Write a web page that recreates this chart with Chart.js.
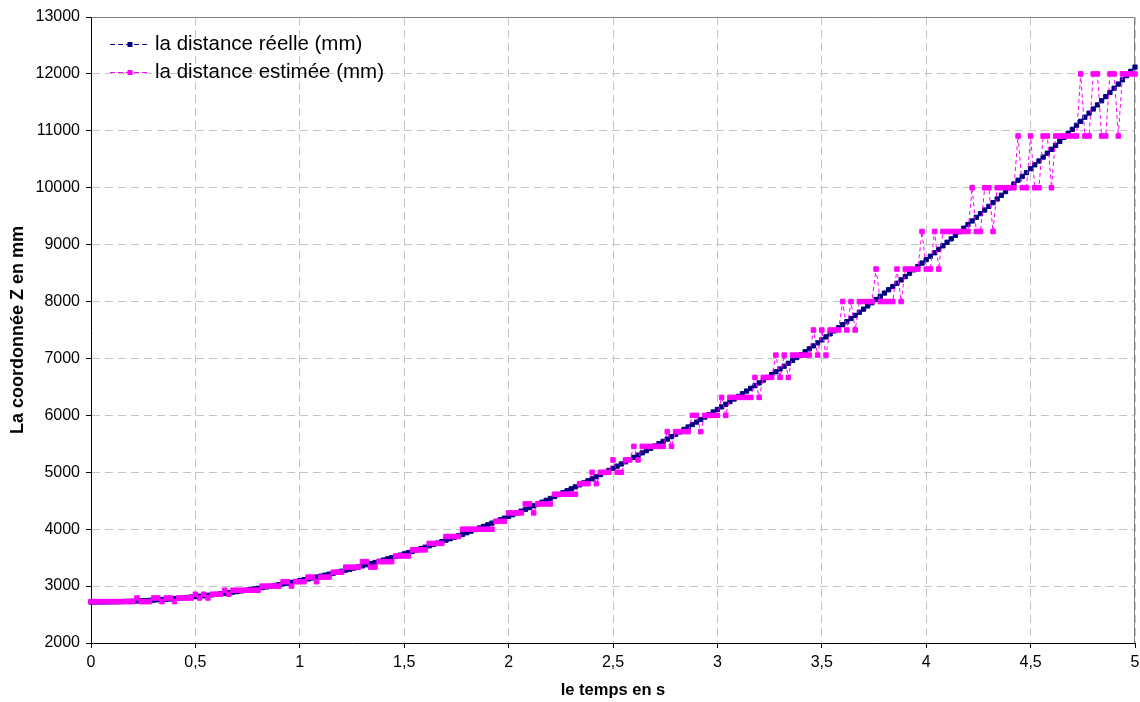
<!DOCTYPE html>
<html>
<head>
<meta charset="utf-8">
<script src="https://cdn.jsdelivr.net/npm/chart.js"></script>
<style>
  html, body { margin: 0; padding: 0; background: #ffffff; }
  #wrap { width: 1140px; height: 702px; position: relative; }
</style>
</head>
<body>
<div id="wrap"><canvas id="c"></canvas></div>
<script>
// time in seconds
const times = [
  0.00,0.02,0.04,0.06,0.08,0.10,0.12,0.14,0.16,0.18,
  0.20,0.22,0.24,0.26,0.28,0.30,0.32,0.34,0.36,0.38,
  0.40,0.42,0.44,0.46,0.48,0.50,0.52,0.54,0.56,0.58,
  0.60,0.62,0.64,0.66,0.68,0.70,0.72,0.74,0.76,0.78,
  0.80,0.82,0.84,0.86,0.88,0.90,0.92,0.94,0.96,0.98,
  1.00,1.02,1.04,1.06,1.08,1.10,1.12,1.14,1.16,1.18,
  1.20,1.22,1.24,1.26,1.28,1.30,1.32,1.34,1.36,1.38,
  1.40,1.42,1.44,1.46,1.48,1.50,1.52,1.54,1.56,1.58,
  1.60,1.62,1.64,1.66,1.68,1.70,1.72,1.74,1.76,1.78,
  1.80,1.82,1.84,1.86,1.88,1.90,1.92,1.94,1.96,1.98,
  2.00,2.02,2.04,2.06,2.08,2.10,2.12,2.14,2.16,2.18,
  2.20,2.22,2.24,2.26,2.28,2.30,2.32,2.34,2.36,2.38,
  2.40,2.42,2.44,2.46,2.48,2.50,2.52,2.54,2.56,2.58,
  2.60,2.62,2.64,2.66,2.68,2.70,2.72,2.74,2.76,2.78,
  2.80,2.82,2.84,2.86,2.88,2.90,2.92,2.94,2.96,2.98,
  3.00,3.02,3.04,3.06,3.08,3.10,3.12,3.14,3.16,3.18,
  3.20,3.22,3.24,3.26,3.28,3.30,3.32,3.34,3.36,3.38,
  3.40,3.42,3.44,3.46,3.48,3.50,3.52,3.54,3.56,3.58,
  3.60,3.62,3.64,3.66,3.68,3.70,3.72,3.74,3.76,3.78,
  3.80,3.82,3.84,3.86,3.88,3.90,3.92,3.94,3.96,3.98,
  4.00,4.02,4.04,4.06,4.08,4.10,4.12,4.14,4.16,4.18,
  4.20,4.22,4.24,4.26,4.28,4.30,4.32,4.34,4.36,4.38,
  4.40,4.42,4.44,4.46,4.48,4.50,4.52,4.54,4.56,4.58,
  4.60,4.62,4.64,4.66,4.68,4.70,4.72,4.74,4.76,4.78,
  4.80,4.82,4.84,4.86,4.88,4.90,4.92,4.94,4.96,4.98,
  5.00
];

// la distance réelle (mm)
const realDistance = [
  2720,2720,2721,2721,2722,2724,2725,2727,2730,2732,
  2735,2738,2742,2745,2749,2754,2759,2763,2769,2774,
  2780,2786,2793,2800,2807,2814,2822,2830,2838,2846,
  2855,2865,2874,2884,2894,2904,2915,2926,2937,2949,
  2961,2973,2985,2998,3011,3025,3038,3052,3067,3081,
  3096,3111,3127,3142,3159,3175,3192,3209,3226,3244,
  3261,3280,3298,3317,3336,3355,3375,3395,3415,3436,
  3457,3478,3500,3521,3544,3566,3589,3612,3635,3659,
  3683,3707,3731,3756,3781,3807,3832,3858,3885,3911,
  3938,3965,3993,4021,4049,4077,4106,4135,4164,4194,
  4224,4254,4285,4316,4347,4378,4410,4442,4474,4507,
  4540,4573,4607,4640,4675,4709,4744,4779,4814,4850,
  4886,4922,4959,4995,5033,5070,5108,5146,5184,5223,
  5262,5301,5341,5380,5421,5461,5502,5543,5584,5626,
  5668,5710,5753,5796,5839,5882,5926,5970,6014,6059,
  6104,6149,6195,6241,6287,6333,6380,6427,6475,6522,
  6570,6619,6667,6716,6765,6815,6864,6915,6965,7016,
  7067,7118,7169,7221,7274,7326,7379,7432,7485,7539,
  7593,7647,7702,7757,7812,7867,7923,7979,8036,8092,
  8149,8207,8264,8322,8380,8439,8498,8557,8616,8676,
  8736,8796,8857,8918,8979,9041,9102,9164,9227,9290,
  9353,9416,9480,9544,9608,9672,9737,9802,9868,9933,
  9999,10066,10132,10199,10266,10334,10402,10470,10538,10607,
  10676,10745,10815,10885,10955,11026,11097,11168,11239,11311,
  11383,11455,11528,11601,11674,11748,11822,11896,11970,12045,
  12120
];

// la distance estimée (mm)
const estimatedDistance = [
  2727,2727,2727,2727,2727,2727,2727,2727,2727,2727,
  2727,2791,2727,2727,2727,2791,2791,2727,2791,2791,
  2727,2791,2791,2791,2791,2857,2791,2857,2791,2857,
  2857,2857,2927,2857,2927,2927,2927,2927,2927,2927,
  2927,3000,3000,3000,3000,3000,3077,3077,3000,3077,
  3077,3077,3158,3158,3077,3158,3158,3158,3243,3243,
  3243,3333,3333,3333,3333,3429,3429,3333,3333,3429,
  3429,3429,3429,3529,3529,3529,3529,3636,3636,3636,
  3636,3750,3750,3750,3750,3871,3871,3871,3871,4000,
  4000,4000,4000,4000,4000,4000,4000,4138,4138,4138,
  4286,4286,4286,4286,4444,4444,4286,4444,4444,4444,
  4444,4615,4615,4615,4615,4615,4615,4800,4800,4800,
  5000,4800,5000,5000,5000,5217,5000,5000,5217,5217,
  5455,5217,5455,5455,5455,5455,5455,5455,5714,5455,
  5714,5714,5714,5714,6000,6000,5714,6000,6000,6000,
  6000,6316,6000,6316,6316,6316,6316,6316,6316,6667,
  6316,6667,6667,6667,7059,6667,7059,6667,7059,7059,
  7059,7059,7059,7500,7059,7500,7059,7500,7500,7500,
  8000,7500,8000,7500,8000,8000,8000,8000,8571,8000,
  8000,8000,8000,8571,8000,8571,8571,8571,8571,9231,
  8571,8571,9231,8571,9231,9231,9231,9231,9231,9231,
  9231,10000,9231,9231,10000,10000,9231,10000,10000,10000,
  10000,10000,10909,10000,10000,10909,10000,10000,10909,10909,
  10000,10909,10909,10909,10909,10909,10909,12000,10909,10909,
  12000,12000,10909,10909,12000,12000,10909,12000,12000,12000,
  12000
];

const seriesLabels = ['la distance réelle (mm)', 'la distance estimée (mm)'];
const xTitle = 'le temps en s';
const yTitle = 'La coordonnée Z en mm';

const NAVY = '#000080';
const MAGENTA = '#FF00FF';
const FONT = '"Liberation Sans", Arial, sans-serif';

const frameBorder = {
  id: 'frameBorder',
  beforeDatasetsDraw(chart) {
    const a = chart.chartArea, ctx = chart.ctx;
    ctx.save();
    ctx.strokeStyle = '#808080';
    ctx.lineWidth = 1;
    ctx.beginPath();
    ctx.moveTo(Math.round(a.left) + 0.5, Math.round(a.top) + 0.5);
    ctx.lineTo(Math.round(a.right) - 0.5, Math.round(a.top) + 0.5);
    ctx.lineTo(Math.round(a.right) - 0.5, Math.round(a.bottom));
    ctx.stroke();
    ctx.restore();
  }
};

const inlineLegend = {
  id: 'inlineLegend',
  afterDraw(chart) {
    const ctx = chart.ctx, a = chart.chartArea;
    const x0 = a.left + 19, y0 = a.top + 27, rowH = 28;
    chart.data.datasets.forEach((ds, i) => {
      const y = Math.round(y0 + i * rowH) + 0.5;
      ctx.save();
      ctx.strokeStyle = ds.borderColor;
      ctx.lineWidth = 1;
      ctx.setLineDash([5, 3]);
      ctx.beginPath();
      ctx.moveTo(x0, y);
      ctx.lineTo(x0 + 40, y);
      ctx.stroke();
      ctx.setLineDash([]);
      ctx.fillStyle = ds.pointBackgroundColor;
      const s = 5;
      ctx.fillRect(x0 + 20 - s / 2, y - s / 2, s, s);
      ctx.fillStyle = '#000000';
      ctx.font = '20.5px ' + FONT;
      ctx.textBaseline = 'middle';
      ctx.textAlign = 'left';
      ctx.fillText(ds.label, x0 + 45, y);
      ctx.restore();
    });
  }
};

new Chart(document.getElementById('c'), {
  type: 'line',
  data: {
    datasets: [
      {
        label: seriesLabels[0],
        data: times.map((t, i) => ({ x: t, y: realDistance[i] })),
        borderColor: NAVY,
        backgroundColor: NAVY,
        borderWidth: 1,
        borderDash: [4, 3],
        pointStyle: 'rect',
        pointRadius: 3.0,
        pointBorderWidth: 1,
        pointBackgroundColor: NAVY,
        pointBorderColor: NAVY,
        tension: 0,
        fill: false,
        clip: false,
        order: 2
      },
      {
        label: seriesLabels[1],
        data: times.map((t, i) => ({ x: t, y: estimatedDistance[i] })),
        borderColor: MAGENTA,
        backgroundColor: MAGENTA,
        borderWidth: 1,
        borderDash: [4, 3],
        pointStyle: 'rect',
        pointRadius: 3.2,
        pointBorderWidth: 1,
        pointBackgroundColor: MAGENTA,
        pointBorderColor: MAGENTA,
        tension: 0,
        fill: false,
        clip: false,
        order: 1
      }
    ]
  },
  options: {
    responsive: true,
    maintainAspectRatio: false,
    animation: false,
    events: [],
    layout: { padding: { top: 17, right: 5, left: 0, bottom: 0 } },
    plugins: {
      legend: { display: false },
      tooltip: { enabled: false },
      title: { display: false }
    },
    scales: {
      x: {
        type: 'linear',
        min: 0,
        max: 5,
        afterFit(scale) { scale.height = 59; scale.paddingRight = 0; scale.paddingLeft = 0; },
        ticks: {
          stepSize: 0.5,
          color: '#000000',
          font: { family: FONT, size: 16 },
          padding: 5,
          maxRotation: 0,
          autoSkip: false,
          callback: v => String(v).replace('.', ',')
        },
        grid: {
          color: '#c4c4c4',
          lineWidth: 1,
          borderDash: [8, 5],
          drawTicks: true,
          tickLength: 5,
          tickColor: '#000000',
          tickBorderDash: []
        },
        border: { display: true, color: '#000000', width: 1, dash: [8, 5] },
        title: {
          display: true,
          text: xTitle,
          color: '#000000',
          font: { family: FONT, size: 16.5, weight: 'bold' },
          padding: { top: 0, bottom: 2 }
        }
      },
      y: {
        type: 'linear',
        min: 2000,
        max: 13000,
        afterFit(scale) { scale.width = 91; },
        ticks: {
          stepSize: 1000,
          color: '#000000',
          font: { family: FONT, size: 16 },
          padding: 6,
          callback: v => String(v)
        },
        grid: {
          color: '#c4c4c4',
          lineWidth: 1,
          borderDash: [8, 5],
          drawTicks: true,
          tickLength: 5,
          tickColor: '#000000',
          tickBorderDash: []
        },
        border: { display: true, color: '#000000', width: 1, dash: [8, 5] },
        title: {
          display: true,
          text: yTitle,
          color: '#000000',
          font: { family: FONT, size: 18, weight: 'bold' },
          padding: { top: 7, bottom: 0 }
        }
      }
    }
  },
  plugins: [frameBorder, inlineLegend]
});
</script>
</body>
</html>
